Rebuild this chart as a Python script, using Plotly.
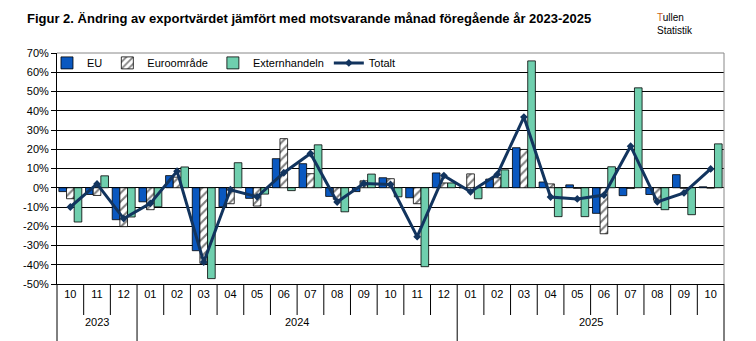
import plotly.graph_objects as go

# Months (tick labels) and the year each month belongs to
months = ["10", "11", "12",
          "01", "02", "03", "04", "05", "06", "07", "08", "09", "10", "11", "12",
          "01", "02", "03", "04", "05", "06", "07", "08", "09", "10"]
years = ["2023"] * 3 + ["2024"] * 12 + ["2025"] * 10

# Change in export value vs same month previous year, percent
eu = [-2.0, -3.5, -16.6, -7.3, 6.3, -32.7, -9.9, -5.5, 15.1, 12.5, -4.5, -2.0, 5.2,
      -5.2, 7.7, 0.0, 4.5, 20.8, 3.0, 1.5, -13.3, -4.1, -3.5, 6.8, 0.5]
euro = [-5.7, -4.0, -20.2, -11.4, 5.5, -39.3, -8.3, -9.5, 25.5, 7.3, -6.0, 3.6, 4.7,
        -8.3, 2.5, 7.2, 5.2, 19.9, 2.0, -0.3, -23.9, -0.4, -6.5, -0.3, -0.2]
ext = [-17.8, 6.2, -15.2, -9.9, 10.8, -47.2, 13.0, -3.3, -1.5, 22.3, -12.5, 7.1, -4.7,
       -41.0, 2.5, -5.7, 9.3, 65.9, -15.0, -15.0, 10.9, 51.9, -11.4, -14.0, 22.8]
total = [-10.0, 2.0, -16.0, -8.1, 8.6, -38.6, -1.0, -4.7, 7.8, 17.8, -7.4, 2.2, 1.7,
         -25.4, 6.3, -2.1, 6.9, 36.7, -4.8, -5.8, -3.8, 21.6, -7.3, -2.7, 9.8]

y_ticks = list(range(-50, 71, 10))

FONT = "Liberation Sans, Arial, sans-serif"

n = len(months)
idx = list(range(n))
outline = dict(color="black", width=0.8)

fig = go.Figure()
fig.add_trace(go.Bar(name="EU", x=idx, y=eu,
                     marker=dict(color="#0A58C0", line=outline)))
fig.add_trace(go.Bar(name="Euroområde", x=idx, y=euro,
                     marker=dict(color="white", line=outline,
                                 pattern=dict(shape="/", fgcolor="black", bgcolor="white",
                                              size=6, solidity=0.35))))
fig.add_trace(go.Bar(name="Externhandeln", x=idx, y=ext,
                     marker=dict(color="#6FCFAE", line=outline)))
fig.add_trace(go.Scatter(name="Totalt", x=idx, y=total, mode="lines+markers",
                         line=dict(color="#12345E", width=3),
                         marker=dict(symbol="diamond", size=6, color="#12345E")))

fig.update_layout(
    width=756, height=341,
    margin=dict(l=57, r=32, t=53, b=57),
    paper_bgcolor="white", plot_bgcolor="white",
    font=dict(family=FONT, size=11, color="black"),
    barmode="group", bargap=0.14, bargroupgap=0,
    title=dict(text="<b>Figur 2. Ändring av exportvärdet jämfört med motsvarande månad föregående år 2023-2025</b>",
               font=dict(family=FONT, size=13, color="black"),
               xref="container", x=27 / 756, xanchor="left",
               yref="container", y=1 - 18 / 341, yanchor="middle"),
    legend=dict(orientation="h", x=-0.015, y=1.02, xanchor="left", yanchor="top",
                font=dict(family=FONT, size=11), bgcolor="rgba(0,0,0,0)",
                itemwidth=30, tracegroupgap=0),
    showlegend=True,
)

fig.update_yaxes(range=[-50, 70], tickvals=y_ticks,
                 ticktext=[f"{v}%" for v in y_ticks],
                 showgrid=True, gridcolor="black", gridwidth=1,
                 zeroline=True, zerolinecolor="black", zerolinewidth=1,
                 showline=True, linecolor="black", linewidth=1,
                 ticks="outside", ticklen=5, tickcolor="black",
                 tickfont=dict(size=11))

fig.update_xaxes(range=[-0.5, n - 0.5], tickvals=idx, ticktext=months,
                 showline=True, linecolor="black", linewidth=1,
                 ticks="", showgrid=False, zeroline=False,
                 tickfont=dict(size=11))

# Month separators below the axis, longer dividers at year boundaries
for b in range(n + 1):
    xp = b / n
    new_year = b == 0 or b == n or years[b] != years[b - 1]
    fig.add_shape(type="line", xref="paper", yref="paper", x0=xp, x1=xp,
                  y0=0, y1=-(60 if new_year else 31) / 231,
                  line=dict(color="black", width=1))

# Year labels centred under each group of months
for yr in dict.fromkeys(years):
    pos = [i for i, v in enumerate(years) if v == yr]
    fig.add_annotation(text=yr, xref="x", yref="paper",
                       x=(pos[0] + pos[-1]) / 2, y=-38 / 231,
                       xanchor="center", yanchor="middle", showarrow=False,
                       font=dict(family=FONT, size=11, color="black"))

# Grey frame on the top and right of the plot area
fig.add_shape(type="line", xref="paper", yref="paper", x0=0, x1=1, y0=1, y1=1,
              line=dict(color="#888888", width=1))
fig.add_shape(type="line", xref="paper", yref="paper", x0=1, x1=1, y0=0, y1=1,
              line=dict(color="#888888", width=1))

fig.add_annotation(text="<span style='color:#C8641E'>T</span>ullen<br>Statistik",
                   xref="paper", yref="paper", x=(655 - 57) / 667, y=(284 - 10) / 231,
                   xanchor="left", yanchor="top", align="left", showarrow=False,
                   font=dict(family=FONT, size=10, color="black"))

fig.write_html("out.html")
